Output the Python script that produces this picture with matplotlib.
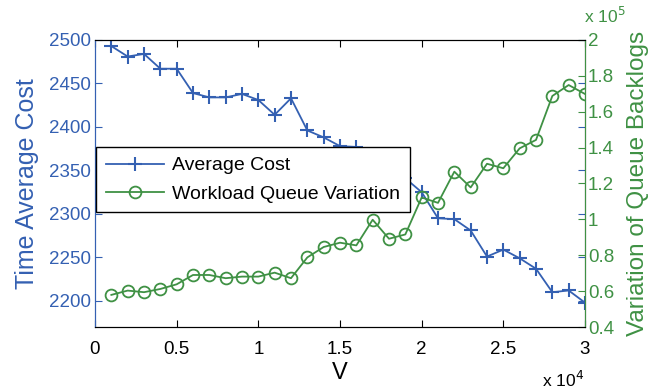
import numpy as np
import matplotlib.pyplot as plt

# data (V in units of 1e4, variation in units of 1e5)
v = np.arange(1, 31) / 10.0
avg_cost = [2493, 2481, 2484, 2467, 2467, 2439, 2434, 2434, 2438, 2431,
            2414, 2433, 2396, 2388, 2378, 2377, 2366, 2353, 2341, 2325,
            2295, 2294, 2281, 2251, 2259, 2249, 2237, 2210, 2212, 2198]
queue_var = [0.579, 0.603, 0.594, 0.612, 0.638, 0.690, 0.690, 0.672, 0.681, 0.681,
             0.703, 0.672, 0.788, 0.846, 0.870, 0.855, 0.998, 0.892, 0.916, 1.122,
             1.092, 1.266, 1.178, 1.310, 1.285, 1.396, 1.443, 1.688, 1.749, 1.699]

blue = '#3460b2'
green = '#3f9144'

plt.rcParams['font.family'] = ['Liberation Sans', 'DejaVu Sans']

fig = plt.figure(figsize=(6.54, 3.91), dpi=100)
ax1 = fig.add_axes([95 / 654, 1 - 327 / 391, 490 / 654, 287 / 391])
ax2 = ax1.twinx()

l1, = ax1.plot(v, avg_cost, color=blue, marker='+', markersize=10.5, mew=1.5,
               lw=1.3, label='Average Cost')
l2, = ax2.plot(v, queue_var, color=green, marker='o', markersize=8.5, mfc='none',
               mew=1.3, lw=1.3, label='Workload Queue Variation')

ax1.set_xlim(0, 3)
ax1.set_ylim(2170, 2500)
ax2.set_ylim(0.4, 2.0)

ax1.set_xticks([0, 0.5, 1, 1.5, 2, 2.5, 3])
ax1.set_xticklabels(['0', '0.5', '1', '1.5', '2', '2.5', '3'])
ax1.set_yticks([2200, 2250, 2300, 2350, 2400, 2450, 2500])
ax2.set_yticks([0.4, 0.6, 0.8, 1.0, 1.2, 1.4, 1.6, 1.8, 2.0])
ax2.set_yticklabels(['0.4', '0.6', '0.8', '1', '1.2', '1.4', '1.6', '1.8', '2'])

ax1.tick_params(axis='x', direction='in', top=True, length=5, labelsize=13.5,
                colors='black', pad=10)
ax1.tick_params(axis='y', direction='in', left=True, right=True, length=5,
                labelsize=13.5, colors=blue, pad=3)
ax2.tick_params(axis='y', direction='in', length=5, labelsize=13.5,
                colors=green, pad=2)

ax1.spines['left'].set_color(blue)
ax2.spines['left'].set_color(blue)
ax2.spines['right'].set_color(green)
for ax in (ax1, ax2):
    ax.spines['top'].set_color('black')
    ax.spines['bottom'].set_color('black')

ax1.set_xlabel('V', fontsize=17, labelpad=3)
ax1.set_ylabel('Time Average Cost', fontsize=18, color=blue, labelpad=7)
ax2.set_ylabel('Variation of Queue Backlogs', fontsize=17.5, color=green, labelpad=9)

fig.text(584 / 654, 1 - 380 / 391, r'x 10$^4$', fontsize=12.5, ha='right',
         va='center', color='black')
fig.text(584 / 654, 1 - 16 / 391, r'x 10$^5$', fontsize=12.5, ha='left',
         va='center', color=green)

leg = ax1.legend([l1, l2], ['Average Cost', 'Workload Queue Variation'],
                 loc='upper left', bbox_to_anchor=(0.002, 0.627), fontsize=14,
                 frameon=True, fancybox=False, edgecolor='black', framealpha=1,
                 handlelength=3.0, borderpad=0.5, labelspacing=0.55,
                 handletextpad=0.4, borderaxespad=0)
leg.get_frame().set_linewidth(1.0)
leg.remove()
ax2.add_artist(leg)

fig.savefig('out.png', dpi=100)
